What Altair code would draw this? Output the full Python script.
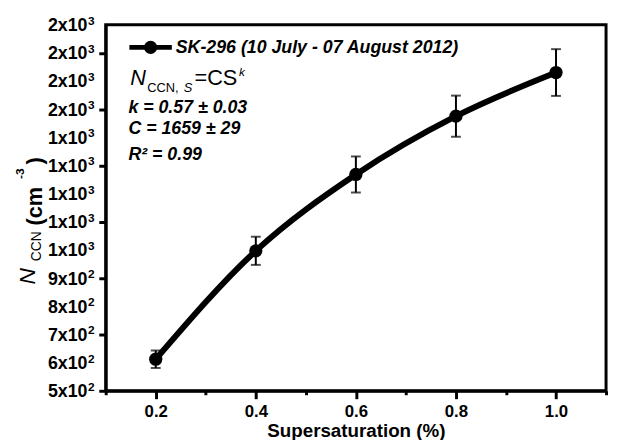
import altair as alt
import pandas as pd

# Data
S = [0.2, 0.4, 0.6, 0.8, 1.0]
N_CCN = [612, 997, 1268, 1475, 1630]
ERR = [31, 50, 64, 73, 83]

X_TICKS = [0.1, 0.2, 0.3, 0.4, 0.5, 0.6, 0.7, 0.8, 0.9, 1.0, 1.1]
Y_TICKS = [500, 550, 600, 650, 700, 750, 800, 850, 900, 950, 1000, 1050,
           1100, 1150, 1200, 1250, 1300, 1350, 1400, 1450, 1500, 1550,
           1600, 1650, 1700, 1750, 1800]

# y tick labels as printed in the reference ("m x 10^e")
Y_LABEL_AT = [500, 600, 700, 800, 900, 1000, 1100, 1200, 1300, 1400,
              1500, 1600, 1700, 1800]
Y_LABEL_MANT = ["5", "6", "7", "8", "9", "1", "1", "1", "1", "1",
                "2", "2", "2", "2"]
Y_LABEL_EXP = ["2", "2", "2", "2", "2", "3", "3", "3", "3", "3",
               "3", "3", "3", "3"]

LEGEND_LABEL = "SK-296 (10 July - 07 August 2012)"
FIT_LINES = ["k = 0.57 \u00b1 0.03", "C = 1659 \u00b1 29", "R\u00b2 = 0.99"]

FONT = "Liberation Sans"

df = pd.DataFrame({"S": S, "N": N_CCN, "err": ERR})
df["lo"] = df["N"] - df["err"]
df["hi"] = df["N"] + df["err"]

lab = pd.DataFrame({"v": Y_LABEL_AT,
                    "base": [m + "x10" for m in Y_LABEL_MANT],
                    "sup": Y_LABEL_EXP})

xscale = alt.Scale(domain=[0.1, 1.1], nice=False, zero=False)
yscale = alt.Scale(domain=[500, 1800], nice=False, zero=False)

x_axis = alt.Axis(
    values=X_TICKS,
    title="Supersaturation (%)",
    labelExpr="round(datum.value*10) % 2 === 0 ? format(datum.value, '.1f') : ''",
    tickSize={"condition": {"test": "round(datum.value*10) % 2 === 0", "value": 8}, "value": 4},
    labelFontSize=17,
    labelPadding=5,
    labelOverlap=False,
    titleFontSize=19,
    titleFontWeight="bold",
    titleFont=FONT,
    titleColor="black",
    titleBaseline="alphabetic",
    titleY=46,
)
y_axis = alt.Axis(
    values=Y_TICKS,
    title=None,
    labels=False,
    tickSize={"condition": {"test": "datum.value % 100 === 0", "value": 7}, "value": 4},
)

base = alt.Chart(df)

line = base.mark_line(interpolate="monotone", strokeWidth=6, color="black").encode(
    x=alt.X("S:Q", scale=xscale, axis=x_axis),
    y=alt.Y("N:Q", scale=yscale, axis=y_axis),
)
err_rule = base.mark_rule(strokeWidth=2, color="black").encode(
    x="S:Q", y="lo:Q", y2="hi:Q"
)
cap_lo = base.mark_tick(orient="horizontal", size=10, thickness=2, color="black").encode(
    x="S:Q", y="lo:Q"
)
cap_hi = base.mark_tick(orient="horizontal", size=10, thickness=2, color="black").encode(
    x="S:Q", y="hi:Q"
)
pts = base.mark_point(filled=True, size=180, color="black", opacity=1).encode(
    x="S:Q", y="N:Q"
)

# y tick labels through the y scale
ylab_base = alt.Chart(lab).mark_text(
    font=FONT, fontSize=18, fontWeight="bold", align="right",
    baseline="alphabetic", dy=6.5, color="black"
).encode(text="base:N", x=alt.value(-18.5), y=alt.Y("v:Q"))
ylab_sup = alt.Chart(lab).mark_text(
    font=FONT, fontSize=12, fontWeight="bold", align="left",
    baseline="alphabetic", dy=0, color="black"
).encode(text="sup:N", x=alt.value(-18), y=alt.Y("v:Q"))

one = pd.DataFrame({"a": [0]})

leg_line = alt.Chart(one).mark_rule(strokeWidth=5, color="black").encode(
    x=alt.value(24), x2=alt.value(67), y=alt.value(23)
)
leg_pt = alt.Chart(one).mark_point(filled=True, size=180, color="black", opacity=1).encode(
    x=alt.value(45.5), y=alt.value(23)
)


def txt(s, x, y, size, weight="normal", style="normal", align="left", angle=0, baseline="alphabetic"):
    return alt.Chart(pd.DataFrame({"t": [s]})).mark_text(
        font=FONT, fontSize=size, fontWeight=weight, fontStyle=style,
        align=align, baseline=baseline, angle=angle, color="black"
    ).encode(text="t:N", x=alt.value(x), y=alt.value(y))


texts = [
    txt(LEGEND_LABEL, 71, 28.5, 18, "bold", "italic"),
    # equation N_CCN,S = CS^k
    txt("N", 25, 61, 22, "normal", "italic"),
    txt("CCN, ", 42, 68, 13),
    txt("S", 79, 68, 13, "normal", "italic"),
    txt("=CS", 90, 61, 22),
    txt("k", 135, 52, 12, "normal", "italic"),
    txt(FIT_LINES[0], 23, 89.5, 18, "bold", "italic"),
    txt(FIT_LINES[1], 23, 111, 18, "bold", "italic"),
    txt(FIT_LINES[2], 23, 137, 18, "bold", "italic"),
    # y axis title  N_CCN (cm^-3)
    txt("N", -72, 255, 23, "normal", "italic", "center", 270),
    txt("CCN", -66, 224.5, 14, "normal", "normal", "center", 270),
    txt("(cm", -65, 184, 22, "bold", "normal", "center", 270),
    txt("-3", -83, 151, 12, "bold", "normal", "center", 270),
    txt(")", -65, 138, 22, "bold", "normal", "center", 270),
]

chart = alt.layer(
    line, err_rule, cap_lo, cap_hi, pts, ylab_base, ylab_sup, leg_line, leg_pt, *texts
).properties(
    width=507,
    height=371,
    autosize=alt.AutoSizeParams(type="none"),
    padding={"left": 99, "top": 14, "right": 4, "bottom": 47},
    background="white",
).configure_view(
    stroke="black", strokeWidth=3
).configure_axis(
    grid=False,
    domainColor="black",
    domainWidth=3,
    tickColor="black",
    tickWidth=3,
    labelColor="black",
    labelFont=FONT,
    labelFontWeight="bold",
)

chart.save("out.html", embed_options={"renderer": "svg", "actions": False})
